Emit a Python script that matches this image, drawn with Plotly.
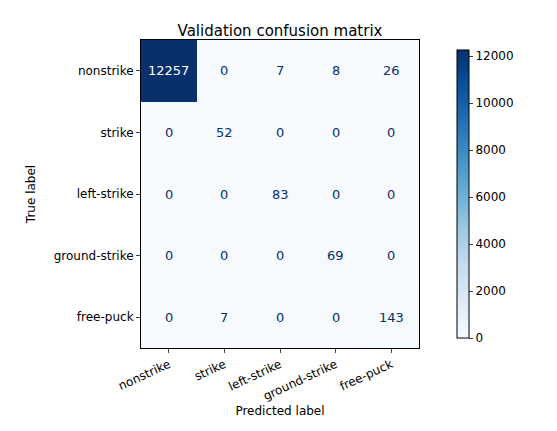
import plotly.graph_objects as go

labels = ["nonstrike", "strike", "left-strike", "ground-strike", "free-puck"]
matrix = [
    [12257, 0, 7, 8, 26],
    [0, 52, 0, 0, 0],
    [0, 0, 83, 0, 0],
    [0, 0, 0, 69, 0],
    [0, 7, 0, 0, 143],
]
cbar_ticks = [0, 2000, 4000, 6000, 8000, 10000, 12000]

blues = [[0.0, "#f7fbff"], [0.125, "#deebf7"], [0.25, "#c6dbef"], [0.375, "#9ecae1"],
         [0.5, "#6baed6"], [0.625, "#4292c6"], [0.75, "#2171b5"], [0.875, "#08519c"], [1.0, "#08306b"]]

zmax = max(max(r) for r in matrix)
idx = list(range(len(labels)))
fig = go.Figure(go.Heatmap(
    z=matrix, x=idx, y=idx, colorscale=blues, zmin=0, zmax=zmax, showscale=True,
    colorbar=dict(tickvals=cbar_ticks, ticktext=[str(t) for t in cbar_ticks],
                  len=1.0, lenmode="fraction", thickness=12,
                  x=1.0, xanchor="left", xpad=38, y=0.5, yanchor="middle",
                  outlinecolor="black", outlinewidth=1, ticks="outside", ticklen=4,
                  tickfont=dict(size=12, color="black")),
    hoverinfo="skip"))

for i, row in enumerate(matrix):
    for j, v in enumerate(row):
        fig.add_annotation(x=j, y=i, text=str(v), showarrow=False,
                           font=dict(size=13, color="white" if v > zmax / 2 else "#08306b"))

fig.update_layout(
    width=557, height=431, plot_bgcolor="white", paper_bgcolor="white",
    font=dict(family="DejaVu Sans", size=12, color="black"),
    title=dict(text="Validation confusion matrix", x=0.5, xref="paper", y=0.96,
               xanchor="center", font=dict(size=15)),
    margin=dict(l=133, r=117, t=32, b=91),
    xaxis=dict(title=dict(text="Predicted label", standoff=4, font=dict(size=12)),
               tickangle=-25, tickvals=idx, ticktext=labels, range=[-0.5, 4.5],
               showline=True, linecolor="black", mirror=True, ticks="outside", ticklen=4,
               showgrid=False, zeroline=False, tickfont=dict(size=12)),
    yaxis=dict(title=dict(text="True label", font=dict(size=12)), tickvals=idx, ticktext=labels,
               range=[4.5, -0.5], showline=True, linecolor="black", mirror=True,
               ticks="outside", ticklen=4, showgrid=False, zeroline=False, tickfont=dict(size=12)),
)
fig.write_html("out.html")
